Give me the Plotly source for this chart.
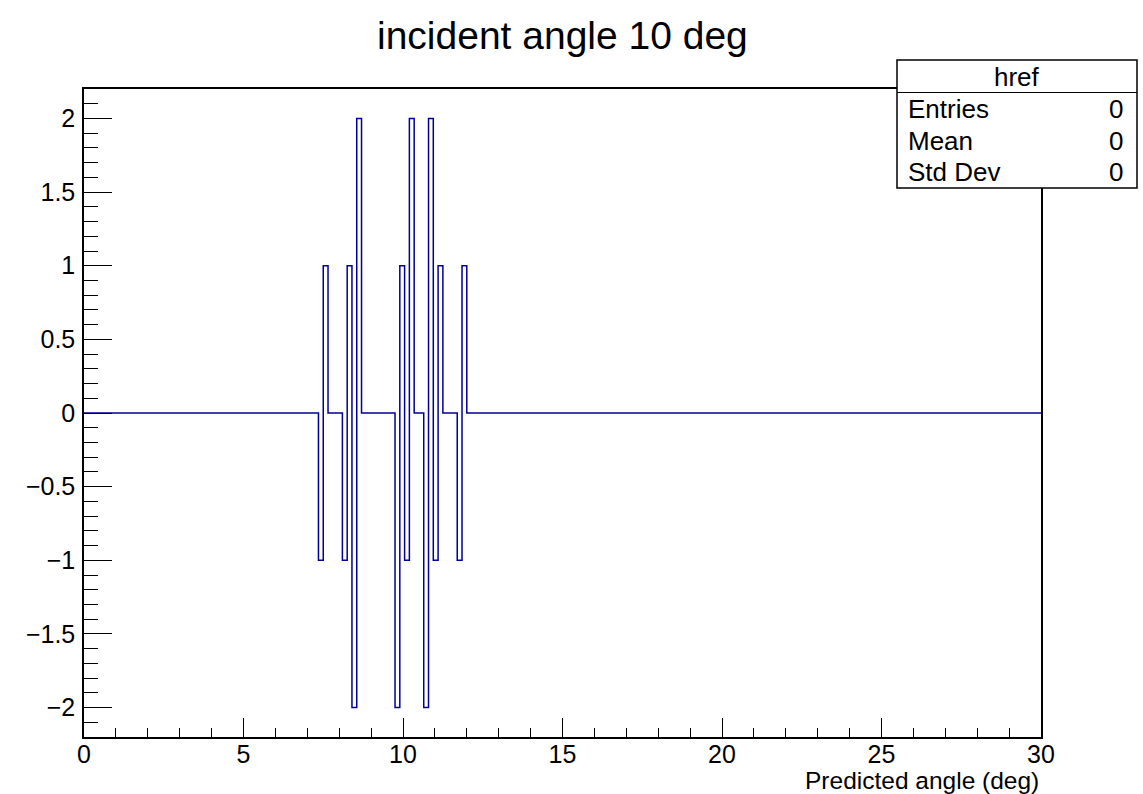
import numpy as np
import plotly.graph_objects as go

# Histogram definition (ROOT TH1: 200 bins from 0 to 30 deg)
n_bins = 200
x_min = 0.0
x_max = 30.0

# Non-empty bins (0-based bin index) and their contents
bin_index = [49, 50, 54, 55, 56, 57, 65, 66, 67, 68, 71, 72, 73, 74, 78, 79]
bin_value = [-1, 1, -1, 1, -2, 2, -2, 1, -1, 2, -2, 2, -1, 1, -1, 1]

title_text = "incident angle 10 deg"
x_title = "Predicted angle (deg)"
stats_name = "href"
stats_labels = ["Entries", "Mean", "Std Dev"]
stats_values = ["0", "0", "0"]

edges = np.linspace(x_min, x_max, n_bins + 1)
counts = np.zeros(n_bins)
for i, v in zip(bin_index, bin_value):
    counts[i] = v
ys = np.append(counts, counts[-1])

FONT = "Liberation Sans, Arial, Helvetica, sans-serif"
W, H = 1143, 794
L, R, T, B = 84, 102, 89, 57
pw, ph = W - L - R, H - T - B

def px(xp):
    return (xp - L) / pw

def py(yp):
    return (H - B - yp) / ph

fig = go.Figure()
fig.add_trace(go.Scatter(
    x=edges, y=ys, mode="lines", line_shape="hv",
    line=dict(color="#000099", width=1.5), hoverinfo="skip", showlegend=False,
))

fig.update_layout(
    width=W, height=H,
    margin=dict(l=L, r=R, t=T, b=B, autoexpand=False),
    paper_bgcolor="white", plot_bgcolor="white",
    font=dict(family=FONT, color="black", size=25),
    showlegend=False,
)

fig.update_xaxes(
    range=[x_min, x_max], showgrid=False, zeroline=False,
    showline=True, linecolor="black", linewidth=1.5, mirror=True,
    ticks="inside", ticklen=19, tickwidth=1.2, tickcolor="black",
    tick0=0, dtick=5,
    minor=dict(ticks="inside", ticklen=9, tickwidth=1.2, tickcolor="black", dtick=1),
    tickfont=dict(family=FONT, size=25), ticklabelstandoff=-6,
)
fig.update_yaxes(
    range=[-2.2, 2.2], showgrid=False, zeroline=False,
    showline=True, linecolor="black", linewidth=1.5, mirror=True,
    ticks="inside", ticklen=28, tickwidth=1.2, tickcolor="black",
    tick0=0, dtick=0.5,
    minor=dict(ticks="inside", ticklen=14, tickwidth=1.2, tickcolor="black", dtick=0.1),
    tickfont=dict(family=FONT, size=25), ticklabelstandoff=2,
)

annotations = []
# Title
annotations.append(dict(
    text=title_text, xref="paper", yref="paper", x=px(562), y=py(36),
    xanchor="center", yanchor="middle", showarrow=False,
    font=dict(family=FONT, size=39, color="black"),
))
# X axis title (right aligned, ROOT style)
annotations.append(dict(
    text=x_title, xref="paper", yref="paper", x=px(1040), y=py(795),
    xanchor="right", yanchor="bottom", showarrow=False, borderpad=0,
    font=dict(family=FONT, size=24.5, color="black"),
))

shapes = []
# Stats box
bx0, bx1, by0, by1, bsep = 897, 1137, 60, 188, 92.5
shapes.append(dict(type="rect", xref="paper", yref="paper",
                   x0=px(bx0), x1=px(bx1), y0=py(by1), y1=py(by0),
                   line=dict(color="black", width=1.5), fillcolor="white", layer="above"))
shapes.append(dict(type="line", xref="paper", yref="paper",
                   x0=px(bx0), x1=px(bx1), y0=py(bsep), y1=py(bsep),
                   line=dict(color="black", width=1.2), layer="above"))
annotations.append(dict(
    text=stats_name, xref="paper", yref="paper", x=px((bx0 + bx1) / 2), y=py(77),
    xanchor="center", yanchor="middle", showarrow=False,
    font=dict(family=FONT, size=26, color="black"),
))
row_y = [109, 141, 172]
for lab, val, yy in zip(stats_labels, stats_values, row_y):
    annotations.append(dict(
        text=lab, xref="paper", yref="paper", x=px(906), y=py(yy),
        xanchor="left", yanchor="middle", showarrow=False,
        font=dict(family=FONT, size=26, color="black"),
    ))
    annotations.append(dict(
        text=val, xref="paper", yref="paper", x=px(1125), y=py(yy),
        xanchor="right", yanchor="middle", showarrow=False,
        font=dict(family=FONT, size=26, color="black"),
    ))

fig.update_layout(annotations=annotations, shapes=shapes)
fig.write_html("out.html")
